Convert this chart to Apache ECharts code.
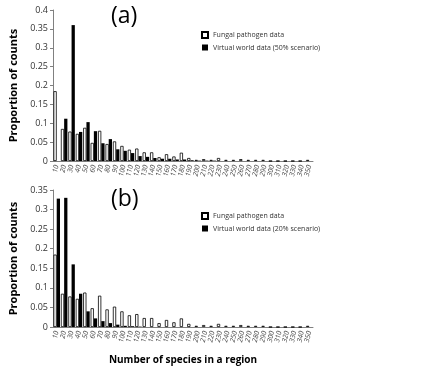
<!DOCTYPE html>
<html>
<head>
<meta charset="utf-8">
<script src="https://cdn.jsdelivr.net/npm/echarts@6/dist/echarts.min.js"></script>
<style>html,body{margin:0;padding:0;background:#fff}#chart{width:440px;height:366px}</style>
</head>
<body>
<div id="chart"></div>
<script>
// categories: number of species in a region
const regions = ['10','20','30','40','50','60','70','80','90','100','110','120','130','140','150','160','170','180','190','200','210','220','230','240','250','260','270','280','290','300','310','320','330','340','350'];
const fungal = [0.185,0.085,0.078,0.072,0.088,0.048,0.080,0.045,0.052,0.040,0.030,0.033,0.023,0.023,0.010,0.018,0.012,0.022,0.008,0.003,0.005,0.003,0.008,0.003,0.003,0.005,0.003,0.003,0.003,0,0,0,0,0,0.003];
const virtual50 = [0,0.112,0.36,0.077,0.103,0.079,0.047,0.058,0.031,0.027,0.021,0.013,0.011,0.008,0.006,0.006,0.004,0.004,0.002,0.001,0.001,0.001,0,0,0,0,0,0,0,0,0,0,0,0,0];
const virtual20 = [0.328,0.33,0.16,0.085,0.040,0.022,0.015,0.010,0.006,0.003,0.002,0.001,0,0,0,0,0,0,0,0,0,0,0,0,0,0,0,0,0,0,0,0,0,0,0];

const chart = echarts.init(document.getElementById('chart'));
const font = 'Open Sans, Liberation Sans, sans-serif';

function xAx(idx, withName){
  return {
    type:'category', gridIndex:idx, data:regions,
    axisLine:{lineStyle:{color:'#808080'}},
    axisTick:{lineStyle:{color:'#808080'}, length:3},
    axisLabel:{interval:0, rotate:78, fontSize:7, color:'#444', fontFamily:font, fontStyle:'italic', margin:4},
    name: withName ? 'Number of species in a region' : '',
    nameLocation:'middle', nameGap:28,
    nameTextStyle:{fontSize:10, fontWeight:'bold', color:'#000', fontFamily:font}
  };
}
function yAx(idx, max){
  return {
    type:'value', gridIndex:idx, min:0, max:max, interval:0.05,
    splitLine:{show:false},
    axisLine:{show:true, lineStyle:{color:'#808080'}},
    axisTick:{show:true, length:3, lineStyle:{color:'#808080'}},
    axisLabel:{fontSize:9, color:'#333', fontFamily:font, margin:5},
    name:'Proportion of counts', nameLocation:'middle', nameGap:34,
    nameTextStyle:{fontSize:11, fontWeight:'bold', color:'#000', fontFamily:font}
  };
}
const whiteStyle = {color:'#fff', borderColor:'#000', borderWidth:0.8};
const blackStyle = {color:'#000'};
const legendBase = {orient:'vertical', left:196, itemWidth:6, itemHeight:6, itemGap:5, icon:'rect',
  textStyle:{fontSize:7, color:'#333', fontFamily:font}};

chart.setOption({
  animation:false,
  title:[
    {text:'(a)', left:106, top:0, textStyle:{fontSize:23, fontWeight:'normal', color:'#000', fontFamily:font}},
    {text:'(b)', left:106, top:183, textStyle:{fontSize:23, fontWeight:'normal', color:'#000', fontFamily:font}}
  ],
  legend:[
    Object.assign({top:26, data:['Fungal pathogen data','Virtual world data (50% scenario)']}, legendBase),
    Object.assign({top:207, data:['Fungal pathogen data','Virtual world data (20% scenario)']}, legendBase)
  ],
  grid:[
    {left:37, right:127, top:10, bottom:205},
    {left:37, right:127, top:190, bottom:39}
  ],
  xAxis:[xAx(0,false), xAx(1,true)],
  yAxis:[yAx(0,0.4), yAx(1,0.35)],
  series:[
    {name:'Fungal pathogen data', type:'bar', xAxisIndex:0, yAxisIndex:0, data:fungal, itemStyle:whiteStyle, barGap:'0%', barCategoryGap:'12%'},
    {name:'Virtual world data (50% scenario)', type:'bar', xAxisIndex:0, yAxisIndex:0, data:virtual50, itemStyle:blackStyle},
    {name:'Fungal pathogen data', type:'bar', xAxisIndex:1, yAxisIndex:1, data:fungal, itemStyle:whiteStyle, barGap:'0%', barCategoryGap:'12%'},
    {name:'Virtual world data (20% scenario)', type:'bar', xAxisIndex:1, yAxisIndex:1, data:virtual20, itemStyle:blackStyle}
  ]
});
</script>
</body>
</html>
